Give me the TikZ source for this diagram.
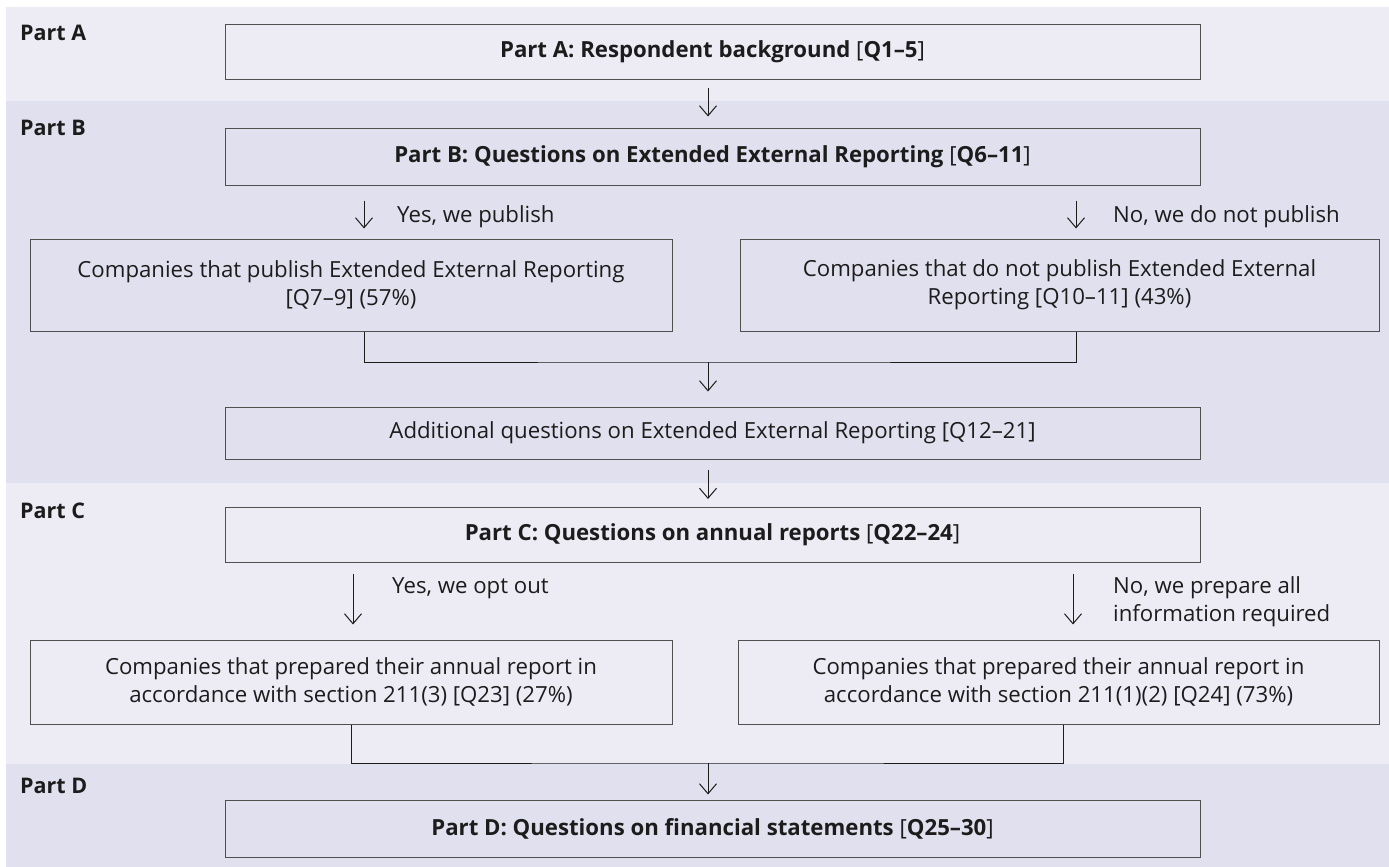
\documentclass[tikz,border=0pt]{standalone}
\usepackage{fontspec}
\setmainfont{Open Sans}
\usetikzlibrary{arrows.meta, positioning}
\definecolor{bandlight}{RGB}{237,236,245}
\definecolor{banddark}{RGB}{225,224,238}
\definecolor{boxline}{RGB}{80,80,80}
\definecolor{textcol}{RGB}{28,28,28}
\begin{document}
\begin{tikzpicture}[x=1pt, y=-1pt, font=\fontsize{22.2}{27.7}\selectfont, text=textcol]
		\tikzstyle{box}=[
		draw=boxline,
		line width=1pt,
		rectangle,
		align=center,
		inner sep=0pt]
		\tikzstyle{wide}=[box, minimum width=975pt, minimum height=55pt]
		\tikzstyle{half}=[box, minimum width=642pt]
		\tikzstyle{part}=[anchor=base west, inner sep=0pt, font=\fontsize{21.5}{27.7}\selectfont\bfseries]
		\tikzstyle{answer}=[anchor=base west, inner sep=0pt, align=left]
		\tikzstyle{arr}=[-{Straight Barb[length=10pt, width=17pt]}, line width=1pt, draw=textcol]
		\tikzstyle{joinline}=[line width=1pt, draw=textcol]
		\useasboundingbox (0,0) rectangle (1389,867);
		% bands
		\fill[bandlight] (6,7) rectangle (1389,101);
		\fill[banddark] (6,101) rectangle (1389,483);
		\fill[bandlight] (6,483) rectangle (1389,764);
		\fill[banddark] (6,764) rectangle (1389,867);
		\node[part] (pA) at (20,41) {Part A};
		\node[part] (pB) at (20,135) {Part B};
		\node[part] (pC) at (20,518) {Part C};
		\node[part] (pD) at (20,793) {Part D};
		%
		\node[wide] (A) at (712.5,52) {\textbf{Part A: Respondent background} [\textbf{Q1--5}]};
		\node[wide, below of=A, node distance=104.5pt, minimum height=57pt] (B) {\textbf{Part B: Questions on Extended External Reporting} [\textbf{Q6--11}]};
		\node[half, minimum height=92pt] (B1) at (351,285) {Companies that publish Extended External Reporting\\ {[Q7--9]} (57\%)};
		\node[half, minimum height=92pt, minimum width=639pt] (B2) at (1059.5,285) {Companies that do not publish Extended External\\ Reporting [Q10--11] (43\%)};
		\node[wide, below of=B, node distance=276.5pt, minimum height=52pt] (B3) {Additional questions on Extended External Reporting [Q12--21]};
		\node[wide, below of=B3, node distance=102pt] (C) {\textbf{Part C: Questions on annual reports} [\textbf{Q22--24}]};
		\node[half, minimum height=84pt] (C1) at (351,682) {Companies that prepared their annual report in\\ accordance with section 211(3) [Q23] (27\%)};
		\node[half, minimum height=84pt, minimum width=641pt] (C2) at (1058.5,682) {Companies that prepared their annual report in\\ accordance with section 211(1)(2) [Q24] (73\%)};
		\node[wide, below of=C, node distance=293.5pt, minimum height=57pt] (D) {\textbf{Part D: Questions on financial statements} [\textbf{Q25--30}]};
		%
		\coordinate (mid) at (708,0);
		\coordinate (yesB) at (364,0);
		\coordinate (noB) at (1076,0);
		\coordinate (yesC) at (353,0);
		\coordinate (noC) at (1073,0);
		\coordinate (outC2) at (1063,0);
		\coordinate (mergeB) at (708,362);
		\coordinate (mergeC) at (708,763);
		%
		\draw[arr, shorten <=8pt, shorten >=11pt] (A.south -| mid) -- (B.north -| mid);
		\draw[arr, shorten <=15pt, shorten >=10pt] (B.south -| yesB) -- (B1.north -| yesB);
		\draw[arr, shorten <=15pt, shorten >=10pt] (B.south -| noB) -- (B2.north -| noB);
		\draw[joinline] (B1.south -| yesB) |- (mergeB) -| (B2.south -| noB);
		\draw[arr, shorten >=15pt] (mergeB) -- (B3.north -| mergeB);
		\draw[arr, shorten <=10pt, shorten >=8pt] (B3.south -| mid) -- (C.north -| mid);
		\draw[arr, shorten <=11pt, shorten >=15pt] (C.south -| yesC) -- (C1.north -| yesC);
		\draw[arr, shorten <=11pt, shorten >=15pt] (C.south -| noC) -- (C2.north -| noC);
		\draw[joinline] (C1.south) |- (mergeC) -| (C2.south -| outC2);
		\draw[arr, shorten >=5pt] (mergeC) -- (D.north -| mergeC);
		%
		\node[answer] (yB) at (397,222) {Yes, we publish};
		\node[answer] (nB) at (1113,222) {No, we do not publish};
		\node[answer] (yC) at (392,593) {Yes, we opt out};
		\node[answer] (nC) at (1113,621) {No, we prepare all\\information required};
	\end{tikzpicture}
\end{document}
